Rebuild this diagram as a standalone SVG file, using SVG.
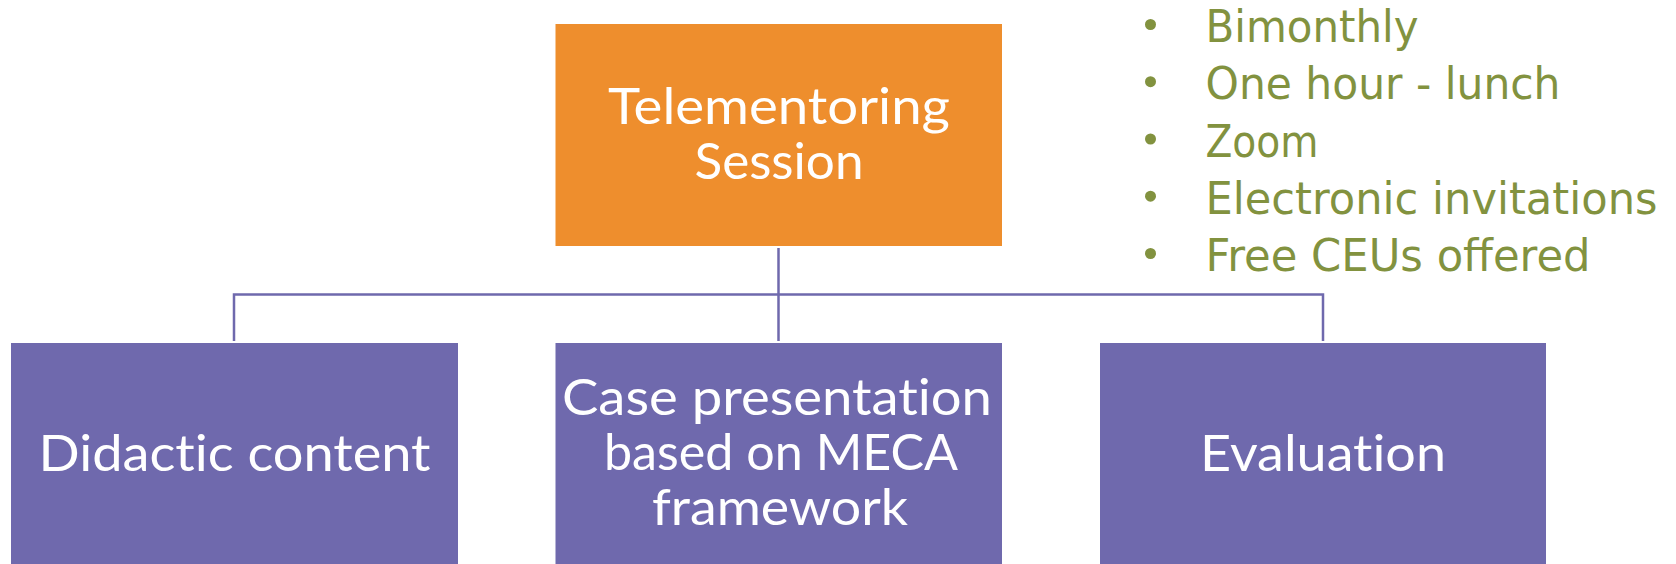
<svg xmlns="http://www.w3.org/2000/svg" width="1676" height="564" viewBox="0 0 1676 564">
<style>
.box-o{fill:#EE8E2D}
.box-p{fill:#6F69AD}
.bt{font-family:Lato,"Open Sans","Liberation Sans",sans-serif;font-size:51px;fill:#FFFFFF;text-anchor:middle;font-variant-ligatures:none;font-feature-settings:"liga" 0,"clig" 0}
.bl{font-family:"DejaVu Sans","Liberation Sans",sans-serif;font-size:45px;fill:#82923F}
.dot{fill:#82923F}
.conn{stroke:#6F69AD;stroke-width:2.5;fill:none}
</style>
<rect width="1676" height="564" fill="#FFFFFF"/>
<g id="connectors">
<line class="conn" x1="778.5" y1="248" x2="778.5" y2="341"/>
<polyline class="conn" points="234,341 234,294.5 1323,294.5 1323,341"/>
</g>
<g id="node-telementoring">
<rect class="box-o" x="555.5" y="24" width="446.5" height="222"/>
<text class="bt" x="779" y="123.5" textLength="342" lengthAdjust="spacingAndGlyphs">Telementoring</text>
<text class="bt" x="779" y="179" textLength="169" lengthAdjust="spacingAndGlyphs">Session</text>
</g>
<g id="node-didactic">
<rect class="box-p" x="11" y="343" width="447" height="222"/>
<text class="bt" x="234.5" y="470.7" textLength="392" lengthAdjust="spacingAndGlyphs">Didactic content</text>
</g>
<g id="node-case">
<rect class="box-p" x="555.5" y="343" width="446.5" height="222"/>
<text class="bt" x="777" y="415" textLength="430" lengthAdjust="spacingAndGlyphs">Case presentation</text>
<text class="bt" x="781" y="470" textLength="354" lengthAdjust="spacingAndGlyphs">based on MECA</text>
<text class="bt" x="780" y="525" textLength="256" lengthAdjust="spacingAndGlyphs">framework</text>
</g>
<g id="node-evaluation">
<rect class="box-p" x="1100" y="343" width="446" height="222"/>
<text class="bt" x="1323" y="470.7" textLength="246" lengthAdjust="spacingAndGlyphs">Evaluation</text>
</g>
<g id="bullets">
<circle class="dot" cx="1150.5" cy="24.5" r="5.5"/>
<text class="bl" x="1205.5" y="42" textLength="213" lengthAdjust="spacingAndGlyphs">Bimonthly</text>
<circle class="dot" cx="1150.5" cy="81.7" r="5.5"/>
<text class="bl" x="1205.5" y="99.2" textLength="355" lengthAdjust="spacingAndGlyphs">One hour - lunch</text>
<circle class="dot" cx="1150.5" cy="139" r="5.5"/>
<text class="bl" x="1205.5" y="156.5" textLength="113" lengthAdjust="spacingAndGlyphs">Zoom</text>
<circle class="dot" cx="1150.5" cy="196.2" r="5.5"/>
<text class="bl" x="1205.5" y="213.7" textLength="452" lengthAdjust="spacingAndGlyphs">Electronic invitations</text>
<circle class="dot" cx="1150.5" cy="253.5" r="5.5"/>
<text class="bl" x="1205.5" y="271" textLength="385" lengthAdjust="spacingAndGlyphs">Free CEUs offered</text>
</g>
</svg>
